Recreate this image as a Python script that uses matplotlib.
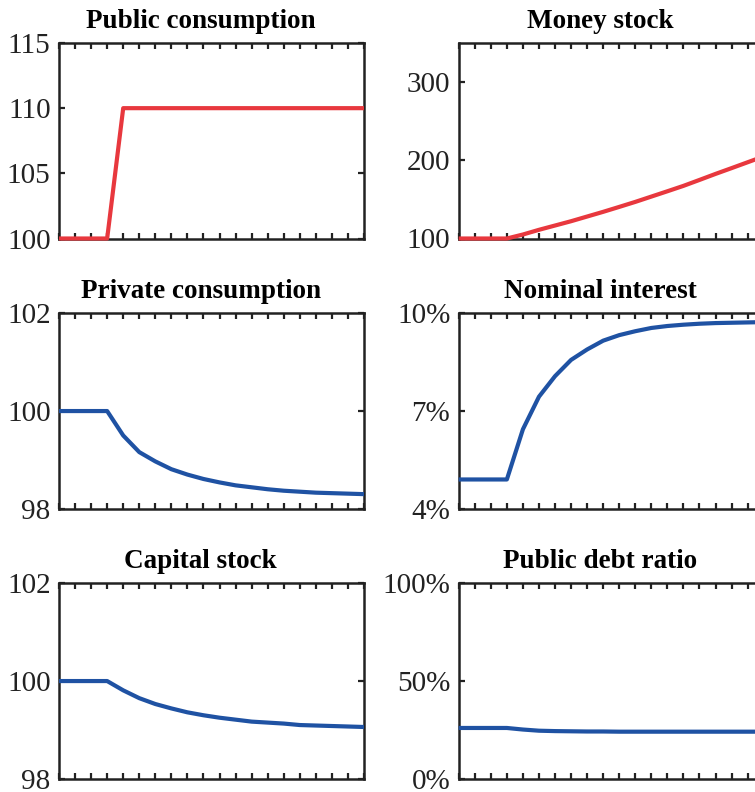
import matplotlib
matplotlib.use("Agg")
import matplotlib.pyplot as plt
import numpy as np

plt.rcParams["font.family"] = ["Liberation Serif", "DejaVu Serif"]

# periods
t = np.arange(20)

public_consumption = [100, 100, 100, 100] + [110] * 16
money_stock = [100, 100, 100, 100, 105.1, 111.1, 116.6, 122.1, 128.1, 134.1,
               140.4, 146.8, 153.6, 160.4, 167.3, 174.9, 182.6, 190.0, 197.5, 205.0]
private_consumption = [100, 100, 100, 100, 99.50, 99.16, 98.97, 98.81, 98.70, 98.61,
                       98.54, 98.48, 98.44, 98.40, 98.37, 98.35, 98.33, 98.32, 98.31, 98.30]
nominal_interest = [4.9, 4.9, 4.9, 4.9, 6.44, 7.44, 8.07, 8.57, 8.89, 9.16,
                    9.33, 9.45, 9.55, 9.61, 9.65, 9.68, 9.70, 9.71, 9.72, 9.73]
capital_stock = [100, 100, 100, 100, 99.81, 99.65, 99.53, 99.44, 99.36, 99.30,
                 99.25, 99.21, 99.17, 99.15, 99.13, 99.10, 99.09, 99.08, 99.07, 99.06]
public_debt = [26.0, 26.0, 26.0, 26.0, 25.2, 24.6, 24.4, 24.3, 24.2, 24.2,
               24.1, 24.1, 24.1, 24.1, 24.1, 24.1, 24.1, 24.1, 24.1, 24.1]

titles = ["Public consumption", "Money stock", "Private consumption",
          "Nominal interest", "Capital stock", "Public debt ratio"]
series = [public_consumption, money_stock, private_consumption,
          nominal_interest, capital_stock, public_debt]
ylims = [(100, 115), (100, 350), (98, 102), (4, 10), (98, 102), (0, 100)]
yticks = [[100, 105, 110, 115], [100, 200, 300], [98, 100, 102],
          [4, 7, 10], [98, 100, 102], [0, 50, 100]]
percent = [False, False, False, True, False, True]

RED = "#e8383e"
BLUE = "#1f52a3"
colors = [RED, RED, BLUE, BLUE, BLUE, BLUE]

fig = plt.figure(figsize=(7.55, 7.92), dpi=100)

W, H = 755, 792
lefts = [59, 458.7]
tops = [43, 313.3, 583.3]
aw, ah = 305, 195.5

for i in range(6):
    row, col = i // 2, i % 2
    ax = fig.add_axes([lefts[col] / W, 1 - (tops[row] + ah) / H, aw / W, ah / H])
    ax.plot(t, series[i], color=colors[i], lw=3.0, zorder=3, clip_on=False,
            solid_capstyle="butt")
    ax.set_xlim(0, 19)
    ax.set_ylim(*ylims[i])
    ax.set_xticks(t)
    ax.set_yticks(yticks[i])
    if percent[i]:
        ax.set_yticklabels([f"{v}%" for v in yticks[i]])
    else:
        ax.set_yticklabels([str(v) for v in yticks[i]])
    ax.tick_params(axis="x", direction="in", top=True, bottom=True,
                   labelbottom=False, length=4, width=1.6, color="#222222")
    ax.tick_params(axis="y", direction="in", left=True, right=True,
                   length=4, width=1.6, color="#222222", pad=6,
                   labelsize=21, labelcolor="#222222")
    for s in ax.spines.values():
        s.set_linewidth(1.8)
        s.set_color("#222222")
    ax.text(0.465, 1.077, titles[i], transform=ax.transAxes, ha="center",
            va="baseline", fontsize=19.5, fontweight="bold")

fig.savefig("out.png", dpi=100)
